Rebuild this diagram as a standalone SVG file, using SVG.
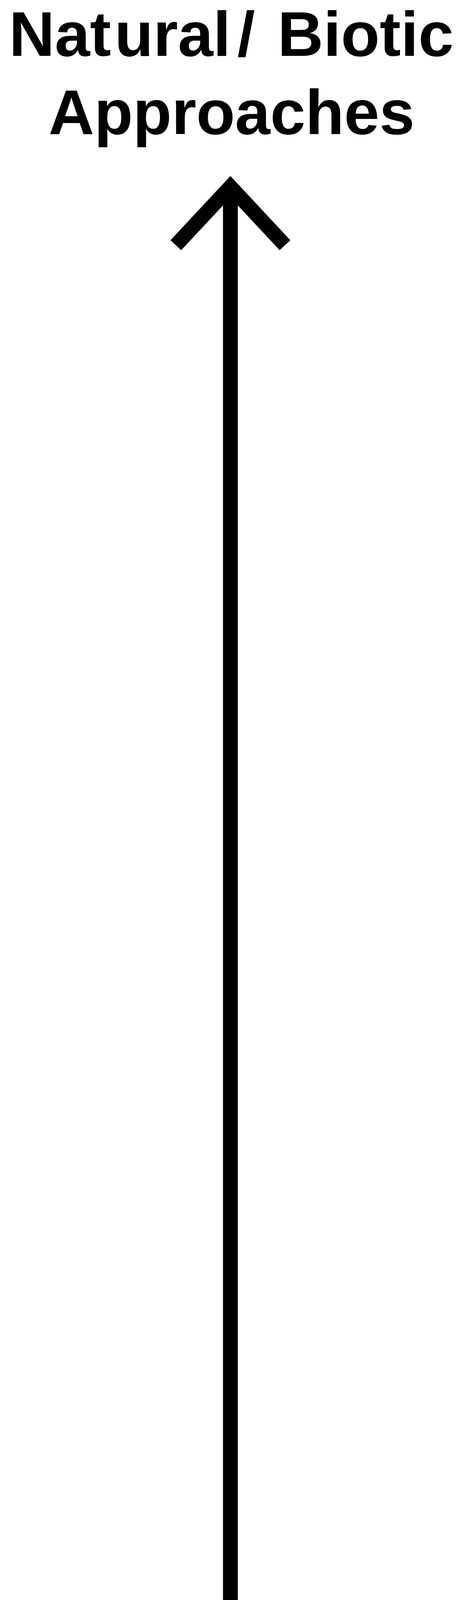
<svg xmlns="http://www.w3.org/2000/svg" width="1179" height="5209" viewBox="0 0 1179 5209">
<style>
.lbl{font-family:"Liberation Sans",Arial,sans-serif;font-weight:bold;font-size:162px;fill:#000;font-kerning:none}
.arm{fill:none;stroke:#000;stroke-width:37.5;stroke-linejoin:miter;stroke-miterlimit:10;stroke-linecap:butt}
.shaft{fill:none;stroke:#000;stroke-width:38;stroke-linecap:butt}
</style>
<rect width="1179" height="5209" fill="#fff"/>
<g id="top-label">
<text class="lbl" y="143"><tspan x="23">Nat</tspan><tspan x="293">ural</tspan><tspan x="607">/ </tspan><tspan x="710">Biotic</tspan></text>
<text class="lbl" x="124" y="343">Approaches</text>
</g>
<g id="connectors">
<line class="shaft" x1="589.3" y1="478" x2="589.3" y2="4464"/>
<polyline class="arm" points="449.7,627.7 589.3,478.1 728.9,627.7"/>
<polyline class="arm" points="449.7,4313.8 589.3,4463.4 728.9,4313.8"/>
</g>
<g id="bottom-label">
<text class="lbl" y="4775"><tspan x="11">T</tspan><tspan x="94">echnological</tspan><tspan x="1103">/</tspan></text>
<text class="lbl" x="316" y="4975">Abiotic</text>
<text class="lbl" x="124" y="5175">Approaches</text>
</g>
</svg>
